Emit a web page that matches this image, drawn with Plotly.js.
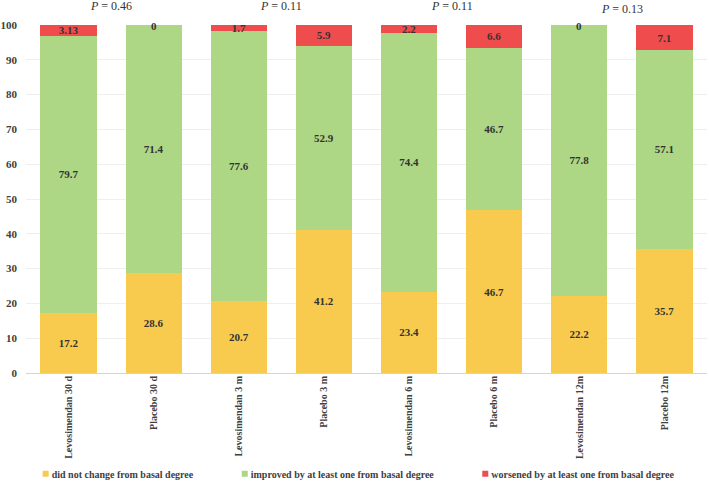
<!DOCTYPE html>
<html>
<head>
<meta charset="utf-8">
<script src="https://cdn.plot.ly/plotly-3.0.1.min.js"></script>
<style>
  html, body { margin: 0; padding: 0; background: #fff; }
  #chart { width: 709px; height: 482px; }
</style>
</head>
<body>
<div id="chart"></div>
<script>
// Categorias (grupos de tratamento / tempo)
const categorias = [
    'Levosimendan 30 d', 'Placebo 30 d',
    'Levosimendan 3 m', 'Placebo 3 m',
    'Levosimendan 6 m', 'Placebo 6 m',
    'Levosimendan 12m', 'Placebo 12m'
];

// Percentuais de cada desfecho
const semMudanca = [17.2, 28.6, 20.7, 41.2, 23.4, 46.7, 22.2, 35.7];
const melhorou   = [79.7, 71.4, 77.6, 52.9, 74.4, 46.7, 77.8, 57.1];
const piorou     = [3.13, 0, 1.7, 5.9, 2.2, 6.6, 0, 7.1];
const rotulosPiorou = ['3.13', '0', '1.7', '5.9', '2.2', '6.6', '0', '7.1'];

// Valores P entre cada par Levosimendan / Placebo
const valoresP = ['0.46', '0.11', '0.11', '0.13'];
const alturaP  = [1.055, 1.055, 1.055, 1.046]; // em fração do papel

const serif = 'Liberation Serif, Times New Roman, serif';
const corTexto = '#333333';
const espaco = '\u00A0\u00A0\u00A0\u00A0\u00A0'; // afasta um pouco os itens da legenda

function traco(nome, valores, cor, rotulos) {
    return {
        type: 'bar',
        name: nome + espaco,
        x: categorias,
        y: valores,
        text: rotulos || valores.map(String),
        textposition: 'inside',
        insidetextanchor: 'middle',
        constraintext: 'none',
        textfont: { family: serif, size: 11, color: corTexto, weight: 'bold' },
        marker: { color: cor, line: { width: 0 } },
        hoverinfo: 'none'
    };
}

const dados = [
    traco('did not change from basal degree', semMudanca, '#F8CB4E'),
    traco('improved by at least one from basal degree', melhorou, '#ADD685'),
    traco('worsened by at least one from basal degree', piorou, '#EF4D4D', rotulosPiorou)
];

// Rótulo "0" para barras vazias no topo
const anotacoes = [];
piorou.forEach((v, i) => {
    if (v === 0) {
        anotacoes.push({
            x: categorias[i], y: 100, xref: 'x', yref: 'y', yshift: -1,
            text: '<b>0</b>', showarrow: false,
            font: { family: serif, size: 11, color: corTexto }
        });
    }
});

// Anotações dos valores P, centradas entre as barras de cada par
valoresP.forEach((p, i) => {
    anotacoes.push({
        x: (2 * i + 1) / categorias.length, y: alturaP[i],
        xref: 'paper', yref: 'paper', xanchor: 'center', yanchor: 'middle',
        text: '<i>P</i> = ' + p, showarrow: false,
        font: { family: serif, size: 12, color: corTexto }
    });
});

const layout = {
    width: 709,
    height: 482,
    barmode: 'stack',
    bargap: 0.34,
    paper_bgcolor: '#fff',
    plot_bgcolor: '#fff',
    margin: { l: 26, r: 2, t: 25, b: 109 },
    font: { family: serif, color: '#404040' },
    xaxis: {
        type: 'category',
        tickangle: -90,
        tickfont: { family: serif, size: 10, color: '#404040', weight: 'bold' },
        showgrid: false,
        showline: false,
        zeroline: false,
        ticks: ''
    },
    yaxis: {
        range: [0, 100],
        dtick: 10,
        tickfont: { family: serif, size: 11, color: '#404040', weight: 'bold' },
        gridcolor: '#eeeeee',
        gridwidth: 1,
        zeroline: true,
        zerolinecolor: '#d4d4d4',
        zerolinewidth: 1,
        showline: false,
        ticks: '',
        ticklabelstandoff: 8
    },
    legend: {
        orientation: 'h',
        x: 0.496, xanchor: 'center', xref: 'container',
        y: 0.017, yref: 'container', yanchor: 'middle',
        bgcolor: 'rgba(0,0,0,0)',
        font: { family: serif, size: 10, color: '#404040', weight: 'bold' },
        itemwidth: 30,
        traceorder: 'normal'
    },
    annotations: anotacoes,
    showlegend: true
};

Plotly.newPlot('chart', dados, layout, { displayModeBar: false, staticPlot: true }).then(gd => {
    // Quadradinhos da legenda menores e colados ao texto, como no original
    gd.querySelectorAll('.legendpoints path').forEach(p => {
        p.setAttribute('transform', 'translate(34,0) scale(0.5)');
    });
});
</script>
</body>
</html>
